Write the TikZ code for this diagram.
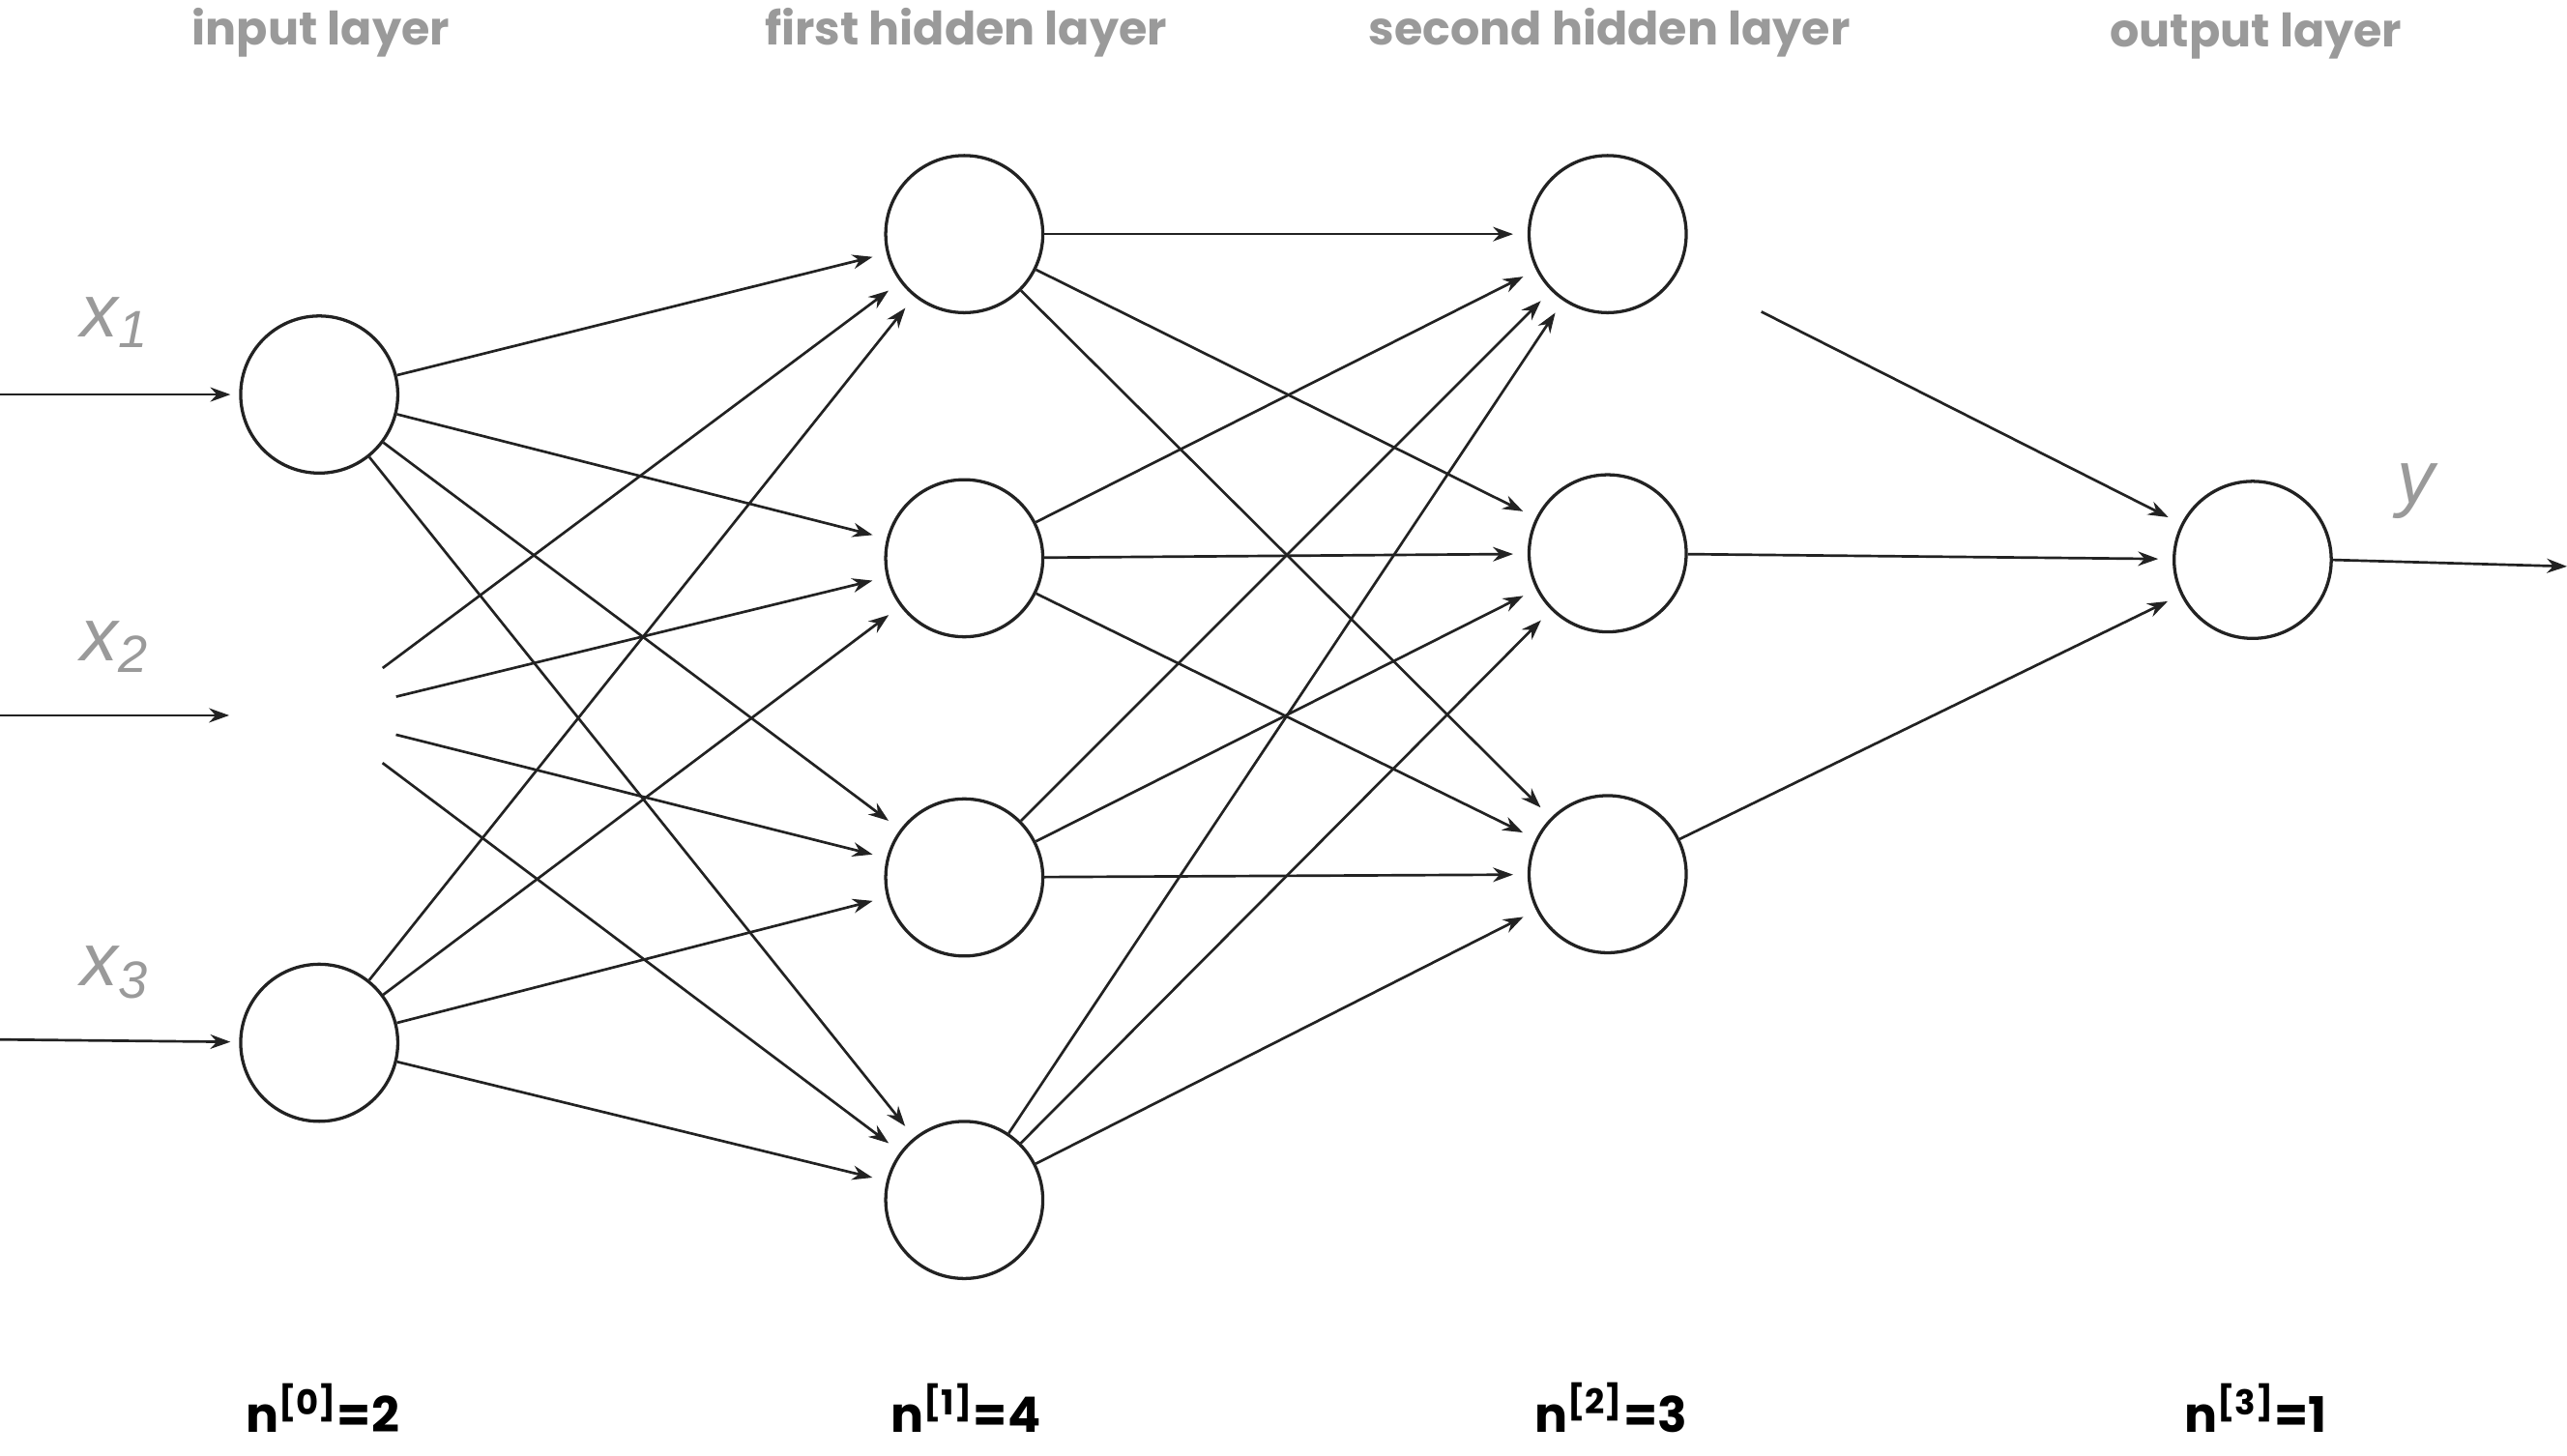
\documentclass[tikz,border=0pt]{standalone}
\usepackage{fontspec}
\setmainfont{Poppins}
\newfontfamily\lsans{Liberation Sans}
\usetikzlibrary{arrows.meta}
\definecolor{lg}{HTML}{9A9A9A}
\definecolor{ink}{HTML}{222222}
\begin{document}
\begin{tikzpicture}[x=0.02cm,y=-0.02cm,
  neuron/.style={circle,draw=ink,line width=1.1pt,minimum size=1.92cm,inner sep=0pt},
  ghost/.style={circle,minimum size=1.92cm,inner sep=0pt},
  conn/.style={draw=ink,line width=0.9pt,-{Stealth[length=7pt,width=5pt]},shorten >=5pt},
  head/.style={font=\fontsize{16}{18}\selectfont\bfseries,text=lg},
  xlab/.style={font=\lsans\itshape\fontsize{26}{28}\selectfont,text=lg},
  nlab/.style={font=\fontsize{17}{19}\selectfont\bfseries,text=black}]
\useasboundingbox (0,0) rectangle (1568,889);
\node[neuron] (i1) at (195,241) {};
\node[ghost] (i2) at (195,437) {};
\node[neuron] (i3) at (195,637) {};
\node[neuron] (a1) at (589,143) {};
\node[neuron] (a2) at (589,341) {};
\node[neuron] (a3) at (589,536) {};
\node[neuron] (a4) at (589,733) {};
\node[neuron] (b1) at (982,143) {};
\node[neuron] (b2) at (982,338) {};
\node[neuron] (b3) at (982,534) {};
\node[neuron] (o) at (1376,342) {};
\coordinate (s1) at (0,241);
\coordinate (s2) at (0,437);
\coordinate (s3) at (0,635);
\coordinate (e2) at (140,437);
\coordinate (yend) at (1568,346);
\draw[conn,shorten >=3pt] (s1) -- (i1);
\draw[conn,shorten >=0pt] (s2) -- (e2);
\draw[conn,shorten >=3pt] (s3) -- (i3);
\foreach \i in {i1,i2,i3}{\foreach \a in {a1,a2,a3,a4}{\draw[conn] (\i) -- (\a);}}
\foreach \a in {a1,a2,a3,a4}{\foreach \b in {b1,b2,b3}{\draw[conn] (\a) -- (\b);}}
\draw[conn,shorten <=32pt] (b1) -- (o);
\draw[conn] (b2) -- (o);
\draw[conn] (b3) -- (o);
\draw[conn,shorten >=0pt] (o.east) -- (yend);
\node[head] (h0) at (196,20) {input layer};
\node[head] (h1) at (590,20) {first hidden layer};
\node[head] (h2) at (983,20) {second hidden layer};
\node[head] (h3) at (1378,22) {output layer};
\node[xlab] (x1) at (70,197) {x\textsubscript{1}};
\node[xlab] (x2) at (70,395) {x\textsubscript{2}};
\node[xlab] (x3) at (70,594) {x\textsubscript{3}};
\node[xlab] (yl) at (1476,300) {y};
\node[nlab] (n0) at (197,860) {n\textsuperscript{[0]}=2};
\node[nlab] (n1) at (590,860) {n\textsuperscript{[1]}=4};
\node[nlab] (n2) at (984,860) {n\textsuperscript{[2]}=3};
\node[nlab] (n3) at (1378,860) {n\textsuperscript{[3]}=1};
\end{tikzpicture}
\end{document}
